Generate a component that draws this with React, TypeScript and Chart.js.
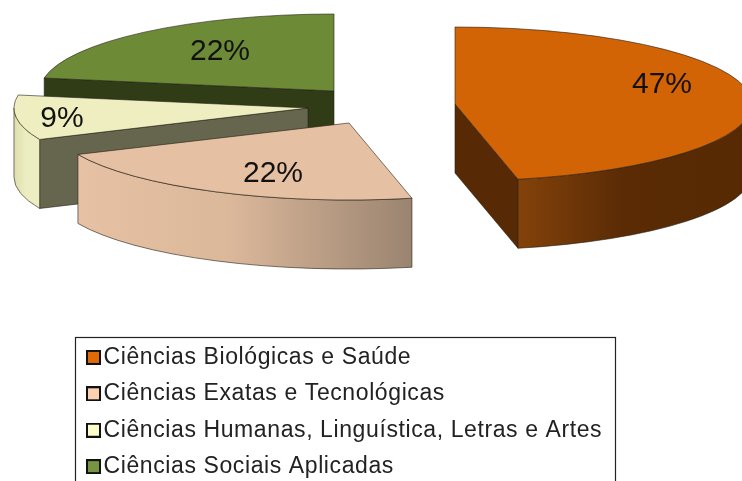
import React, { useEffect, useRef } from "react";
import { Chart, registerables } from "chart.js";

Chart.register(...registerables);

const categories = [
  "Ciências Biológicas e Saúde",
  "Ciências Exatas e Tecnológicas",
  "Ciências Humanas, Linguística, Letras e Artes",
  "Ciências Sociais Aplicadas",
];
const shares = [46.6, 21.7, 9.4, 22.3];

const topColors = ["#d36406", "#e6c0a3", "#eeeec0", "#6d8a37"];
const legendColors = ["#e06a06", "#fbd0b0", "#fdfdcc", "#769540"];
const faceColors = ["#572a05", "#9a8470", "#66664f", "#2f3c16"];
const wallStops = [
  ["#84420a", "#5a2b05", "#572a04"],
  ["#e6c1a4", "#dcb89b", "#9a8470"],
  ["#dedeae", "#ecedc0", "#ecedc0"],
  ["#2f3c16", "#2f3c16", "#2f3c16"],
];
const explode = [
  [84, -1],
  [-22, 18],
  [-63, 3],
  [-37, -14],
];
const labelOffsets = [
  [207, -19],
  [-76, 51],
  [-246, 11],
  [-114, -39],
];
const widthScale = [1, 1, 0.99, 0.99];
const STRETCH_X = 297 / 105;
const STRETCH_Y = 77 / 105;
const DEPTH = 69;
const EDGE = "rgba(35,30,20,0.75)";
const paintOrder = [3, 2, 1, 0];

function makeMarker(fill: string) {
  const c = document.createElement("canvas");
  c.width = 19;
  c.height = 15;
  const g = c.getContext("2d")!;
  g.fillStyle = "#111";
  g.fillRect(4, 0, 15, 15);
  g.fillStyle = fill;
  g.fillRect(6, 2, 11, 11);
  return c;
}

const pie3d = {
  id: "pie3d",
  beforeDraw(chart: any) {
    chart.ctx.letterSpacing = "0.6px";
  },
  beforeDatasetDraw(chart: any) {
    const ctx = chart.ctx;
    const arcs = chart.getDatasetMeta(0).data;
    paintOrder.forEach((i) => {
      const p = arcs[i].getProps(["x", "y", "startAngle", "endAngle", "outerRadius"], true);
      const rx = p.outerRadius * STRETCH_X * widthScale[i];
      const ry = p.outerRadius * STRETCH_Y;
      const cx = p.x + explode[i][0];
      const cy = p.y + explode[i][1];
      const a0 = p.startAngle;
      const a1 = p.endAngle;
      ctx.save();
      ctx.lineWidth = 0.8;
      ctx.strokeStyle = EDGE;
      ctx.lineJoin = "round";

      const radial = (a: number) => {
        const ex = cx + rx * Math.cos(a);
        const ey = cy + ry * Math.sin(a);
        ctx.beginPath();
        ctx.moveTo(cx, cy);
        ctx.lineTo(ex, ey);
        ctx.lineTo(ex, ey + DEPTH);
        ctx.lineTo(cx, cy + DEPTH);
        ctx.closePath();
        ctx.fillStyle = faceColors[i];
        ctx.fill();
        ctx.stroke();
      };
      if (Math.cos(a0) < -1e-6) radial(a0);
      if (Math.cos(a1) > 1e-6) radial(a1);

      const w0 = Math.max(a0, 0);
      const w1 = Math.min(a1, Math.PI);
      if (w1 > w0) {
        const xa = cx + rx * Math.cos(w0);
        const xb = cx + rx * Math.cos(w1);
        const left = Math.min(xa, xb);
        const right = Math.max(xa, a0 < 0 ? cx + rx : xb);
        const grad = ctx.createLinearGradient(left, 0, right, 0);
        grad.addColorStop(0, wallStops[i][0]);
        grad.addColorStop(0.45, wallStops[i][1]);
        grad.addColorStop(1, wallStops[i][2]);
        ctx.beginPath();
        ctx.ellipse(cx, cy, rx, ry, 0, w0, w1);
        ctx.ellipse(cx, cy + DEPTH, rx, ry, 0, w1, w0, true);
        ctx.closePath();
        ctx.fillStyle = grad;
        ctx.fill();
        ctx.stroke();
      }

      ctx.beginPath();
      ctx.moveTo(cx, cy);
      ctx.ellipse(cx, cy, rx, ry, 0, a0, a1);
      ctx.closePath();
      ctx.fillStyle = topColors[i];
      ctx.fill();
      ctx.stroke();
      ctx.restore();
    });

    ctx.save();
    ctx.letterSpacing = "0px";
    ctx.fillStyle = "#111";
    ctx.font = '30px "Liberation Sans", Arial, sans-serif';
    ctx.textAlign = "center";
    ctx.textBaseline = "middle";
    const values: number[] = chart.data.datasets[0].data;
    const total = values.reduce((s, v) => s + v, 0);
    values.forEach((v, i) => {
      const p = arcs[i].getProps(["x", "y"], true);
      ctx.fillText(
        Math.round((v / total) * 100) + "%",
        p.x + explode[i][0] + labelOffsets[i][0],
        p.y + explode[i][1] + labelOffsets[i][1]
      );
    });
    ctx.restore();
    return false;
  },
  afterLayout(chart: any) {
    const lg = chart.legend;
    const w = lg.width;
    const h = lg.height;
    lg.left = 77.6;
    lg.right = 77.6 + w + 80;
    lg.top = 332.5;
    lg.bottom = 332.5 + h + 20;
    lg.width = w + 80;
    lg.adjustHitBoxes();
  },
  afterDraw(chart: any) {
    const ctx = chart.ctx;
    ctx.save();
    ctx.strokeStyle = "#222";
    ctx.lineWidth = 1.2;
    ctx.strokeRect(75.5, 337.5, 540, 200);
    ctx.restore();
    ctx.letterSpacing = "0px";
  },
};

export default function App() {
  const ref = useRef<HTMLCanvasElement>(null);
  useEffect(() => {
    const chart = new Chart(ref.current!, {
      type: "pie",
      data: {
        labels: categories,
        datasets: [{ data: shares, backgroundColor: topColors, borderWidth: 0 }],
      },
      options: {
        animation: false,
        responsive: false,
        layout: { padding: { bottom: 271 } },
        plugins: {
          tooltip: { enabled: false },
          legend: {
            position: "chartArea",
            align: "start",
            labels: {
              color: "#222",
              font: { family: '"Liberation Sans", Arial, sans-serif', size: 23 },
              padding: 13.4,
              usePointStyle: true,
              boxHeight: 15,
              pointStyleWidth: 1,
              generateLabels: (c: any) =>
                (Chart as any).overrides.pie.plugins.legend.labels
                  .generateLabels(c)
                  .map((item: any, i: number) => ({
                    ...item,
                    pointStyle: makeMarker(legendColors[i]),
                  })),
            },
          },
        },
      } as any,
      plugins: [pie3d],
    });
    return () => chart.destroy();
  }, []);
  return (
    <canvas
      ref={ref}
      width={742}
      height={481}
      style={{ position: "absolute", left: 0, top: 0, display: "block", filter: "blur(0.5px)" }}
    />
  );
}
